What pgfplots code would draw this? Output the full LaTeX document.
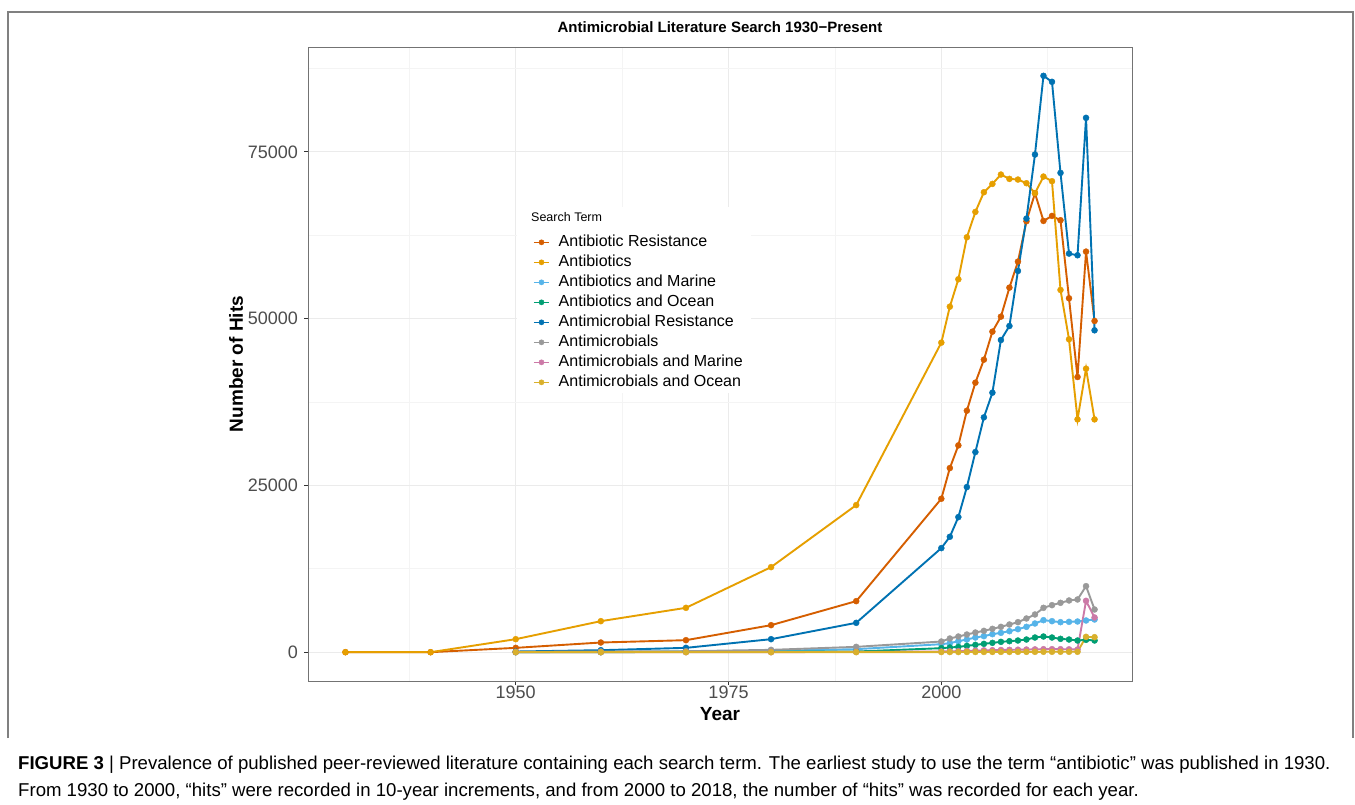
\documentclass[border=0pt]{standalone}
\usepackage{pgfplots}
\usepackage{pgfplotstable}
\pgfplotsset{compat=1.18}
\usepackage{fontspec}
\setmainfont{Liberation Sans}
\definecolor{cRed}{HTML}{D55E00}
\definecolor{cOra}{HTML}{E69F00}
\definecolor{cSky}{HTML}{56B4E9}
\definecolor{cGrn}{HTML}{009E73}
\definecolor{cBlu}{HTML}{0072B2}
\definecolor{cGry}{HTML}{999999}
\definecolor{cPnk}{HTML}{CC79A7}
\definecolor{cYel}{HTML}{D9B02C}
\definecolor{gridmaj}{HTML}{EBEBEB}
\definecolor{gridmin}{HTML}{F4F4F4}
\definecolor{tickcol}{HTML}{4D4D4D}

\pgfplotstableread{
year AR AB ABM ABO AMR AM AMM AMO
1930 0 0 nan nan nan nan nan nan
1940 0 0 nan nan nan nan nan nan
1950 650 1950 0 0 100 50 0 0
1960 1450 4650 50 0 300 100 0 0
1970 1800 6650 100 50 650 150 0 0
1980 4050 12750 200 100 1950 350 0 0
1990 7650 22050 450 100 4400 800 50 0
2000 23000 46400 1200 600 15600 1600 100 20
2001 27600 51800 1350 700 17300 2050 130 20
2002 31000 55900 1650 800 20250 2350 160 20
2003 36200 62200 1900 950 24750 2650 200 30
2004 40400 66000 2200 1100 30000 2950 230 30
2005 43850 68950 2400 1250 35200 3200 270 30
2006 48050 70200 2700 1400 38900 3500 300 40
2007 50300 71600 2900 1550 46800 3800 330 40
2008 54650 70950 3150 1650 48900 4150 350 40
2009 58550 70850 3450 1750 57150 4500 370 50
2010 64600 70300 3800 1900 65000 5050 400 50
2011 68800 68800 4300 2200 74600 5650 420 50
2012 64650 71300 4800 2350 86400 6650 450 60
2013 65400 70600 4650 2200 85500 7050 450 60
2014 64750 54300 4500 2000 71850 7400 450 60
2015 53050 46900 4550 1900 59750 7750 430 60
2016 41250 34900 4600 1750 59500 7900 400 60
2017 60050 42500 4750 1850 80100 9900 7700 2300
2018 49650 34900 4900 1750 48250 6400 5200 2250
}\data

\pgfplotsset{
  ser/.style={line width=1.9pt, color=#1, mark=none, forget plot},
  pts/.style={only marks, mark=*, mark size=3pt, color=#1, forget plot},
}

\begin{document}
\begin{tikzpicture}[x=1pt,y=1pt]
\path[use as bounding box] (0,0) rectangle (1355,804);
\fill[white] (0,0) rectangle (1355,804);
\draw[color=black!50, line width=1.2pt] (8,66) -- (8,792) -- (1353,792) -- (1353,66);

\begin{axis}[
  at={(308pt,123pt)}, anchor=south west, scale only axis,
  width=824pt, height=634pt,
  xmin=1925.6, xmax=2022.4, ymin=-4320, ymax=90720,
  xtick={1950,1975,2000}, ytick={0,25000,50000,75000},
  minor xtick={1937.5,1962.5,1987.5,2012.5},
  minor ytick={12500,37500,62500,87500},
  grid=both,
  major grid style={color=gridmaj, line width=1pt},
  minor grid style={color=gridmin, line width=0.6pt},
  tick align=outside, tick pos=left,
  major tick length=4pt, minor tick length=0pt,
  tick style={color=black!80, line width=0.8pt},
  axis line style={color=black!55, line width=0.9pt},
  /pgf/number format/assume math mode=true,
  /pgf/number format/1000 sep={},
  scaled y ticks=false,
  ticklabel style={font=\fontsize{18}{18}\selectfont, text=tickcol, inner sep=1pt},
  y tick label style={xshift=-5pt},
  title={Antimicrobial Literature Search 1930−Present},
  title style={at={(axis description cs:0.5,1.022)}, anchor=center, yshift=0pt, font=\bfseries\fontsize{15}{15}\selectfont},
  xlabel={Year},
  xlabel style={at={(axis description cs:0.5,-0.052)}, anchor=center, font=\bfseries\fontsize{19}{19}\selectfont},
  ylabel={Number of Hits},
  ylabel style={at={(axis description cs:-0.0874,0.5)}, anchor=center, rotate=0, font=\bfseries\fontsize{19}{19}\selectfont},
  legend style={at={(0.2731,0.708)}, anchor=north west, draw=none, fill=none,
    inner sep=0pt, row sep=0pt, column sep=9pt,
    font=\fontsize{16}{16}\selectfont,
    nodes={inner sep=0pt, text height=14pt, text depth=6pt}},
  legend cell align=left,
  legend image code/.code={\draw[#1, line width=1.5pt] (0pt,0pt) -- (15pt,0pt); \fill[#1] (7.5pt,0pt) circle (2.6pt);},
]
\fill[white] (axis cs:1950.1,66750) rectangle (axis cs:1977.6,38850);

\addplot[ser=cRed] table[x=year,y=AR]{\data};
\addplot[ser=cOra] table[x=year,y=AB]{\data};
\addplot[ser=cSky] table[x=year,y=ABM]{\data};
\addplot[ser=cGrn] table[x=year,y=ABO]{\data};
\addplot[ser=cBlu] table[x=year,y=AMR]{\data};
\addplot[ser=cGry] table[x=year,y=AM]{\data};
\addplot[ser=cPnk] table[x=year,y=AMM]{\data};
\addplot[ser=cYel] table[x=year,y=AMO]{\data};

\addplot[pts=cRed] table[x=year,y=AR]{\data};
\addplot[pts=cOra] table[x=year,y=AB]{\data};
\addplot[pts=cSky] table[x=year,y=ABM]{\data};
\addplot[pts=cGrn] table[x=year,y=ABO]{\data};
\addplot[pts=cBlu] table[x=year,y=AMR]{\data};
\addplot[pts=cGry] table[x=year,y=AM]{\data};
\addplot[pts=cPnk] table[x=year,y=AMM]{\data};
\addplot[pts=cYel] table[x=year,y=AMO]{\data};

\addlegendimage{color=cRed}
\addlegendimage{color=cOra}
\addlegendimage{color=cSky}
\addlegendimage{color=cGrn}
\addlegendimage{color=cBlu}
\addlegendimage{color=cGry}
\addlegendimage{color=cPnk}
\addlegendimage{color=cYel}
\legend{Antibiotic Resistance, Antibiotics, Antibiotics and Marine, Antibiotics and Ocean, Antimicrobial Resistance, Antimicrobials, Antimicrobials and Marine, Antimicrobials and Ocean}
\end{axis}

\node[anchor=west, inner sep=0pt, font=\fontsize{12.5}{12.5}\selectfont] at (531,587) {Search Term};

\node[anchor=base west, inner sep=0pt, font=\fontsize{18.6}{18.6}\selectfont] at (18,35) {\textbf{FIGURE 3} | Prevalence of published peer-reviewed literature containing each search term. The earliest study to use the term “antibiotic” was published in 1930.};
\node[anchor=base west, inner sep=0pt, font=\fontsize{18.6}{18.6}\selectfont] at (18,8) {From 1930 to 2000, “hits” were recorded in 10-year increments, and from 2000 to 2018, the number of “hits” was recorded for each year.};
\end{tikzpicture}
\end{document}
